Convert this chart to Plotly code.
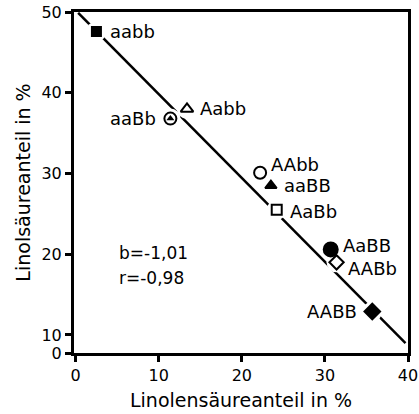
import plotly.graph_objects as go

# ---- data ----
genotypes = ["aabb", "aaBb", "Aabb", "AAbb", "aaBB", "AaBb", "AaBB", "AABb", "AABB"]
linolen = [2.5, 11.4, 13.4, 22.2, 23.5, 24.2, 30.7, 31.4, 35.7]     # x, %
linol = [47.6, 36.8, 38.0, 30.1, 28.5, 25.5, 20.6, 19.0, 12.9]      # y, %
reg_x = [0.3, 39.7]
reg_y = [49.9, 9.0]
x_ticks = [0, 10, 20, 30, 40]
y_tickvals = [7.77, 10, 20, 30, 40, 50]
y_ticktext = ["0", "10", "20", "30", "40", "50"]
stats_text = ["b=-1,01", "r=-0,98"]

# ---- styling ----
symbols = ["square", "circle-open", "triangle-up-open", "circle-open", "triangle-up",
           "square-open", "circle", "diamond-open", "diamond"]
sizes = [9, 12, 11, 12, 10, 10, 14, 11, 12]
label_side = ["right", "left", "right", "right", "right", "right", "right", "right", "left"]
label_dx = [12, -12, 11, 9, 11, 11, 10, 9, -13]
label_dy = [0, 0, 0, 8, 0, -2, 4, -6, 0]
FONT = "DejaVu Sans"

fig = go.Figure()
fig.add_trace(go.Scatter(x=reg_x, y=reg_y, mode="lines",
                         line=dict(color="black", width=2.5), showlegend=False, hoverinfo="skip"))
# white halo to break the line around markers
fig.add_trace(go.Scatter(x=linolen, y=linol, mode="markers",
                         marker=dict(symbol="circle", size=20, color="white", line=dict(width=0)),
                         showlegend=False, hoverinfo="skip"))
for g, xv, yv, s, sz in zip(genotypes, linolen, linol, symbols, sizes):
    fig.add_trace(go.Scatter(x=[xv], y=[yv], mode="markers", name=g,
                             marker=dict(symbol=s, size=sz, color="black",
                                         line=dict(color="black", width=2)),
                             showlegend=False))
    if g == "aaBb":
        fig.add_trace(go.Scatter(x=[xv], y=[yv], mode="markers",
                                 marker=dict(symbol="triangle-up", size=7, color="black"),
                                 showlegend=False, hoverinfo="skip"))

for g, xv, yv, side, dx, dy in zip(genotypes, linolen, linol, label_side, label_dx, label_dy):
    fig.add_annotation(x=xv, y=yv, text=g, showarrow=False,
                       xanchor="left" if side == "right" else "right", yanchor="middle",
                       xshift=dx, yshift=dy, font=dict(family=FONT, size=18, color="black"))

fig.add_annotation(x=5, y=20.2, text=stats_text[0], showarrow=False, xanchor="left",
                   yanchor="middle", font=dict(family=FONT, size=17, color="black"))
fig.add_annotation(x=5, y=17.0, text=stats_text[1], showarrow=False, xanchor="left",
                   yanchor="middle", font=dict(family=FONT, size=17, color="black"))

# broken-axis hint between 0 and 10
fig.add_shape(type="line", xref="x", yref="y", x0=-0.2, x1=-0.2, y0=8.2, y1=9.7,
              line=dict(color="white", width=3, dash="2px,2px"), layer="above")

axis_common = dict(showline=True, linecolor="black", linewidth=3, mirror=True,
                   ticks="outside", ticklen=6, tickwidth=3, tickcolor="black",
                   showgrid=False, zeroline=False, automargin=False,
                   ticklabeloverflow="allow",
                   tickfont=dict(family=FONT, size=16, color="black"))
fig.update_xaxes(range=[-0.2, 40], tickvals=x_ticks,
                 title=dict(text="Linolensäureanteil in %", font=dict(family=FONT, size=19, color="black"),
                            standoff=10),
                 **axis_common)
fig.update_yaxes(range=[7.77, 50], tickvals=y_tickvals, ticktext=y_ticktext,
                 title=dict(text="Linolsäureanteil in %", font=dict(family=FONT, size=19, color="black"),
                            standoff=6),
                 **axis_common)
fig.update_layout(width=419, height=414, margin=dict(l=74, r=11, t=12, b=61),
                  plot_bgcolor="white", paper_bgcolor="white", showlegend=False)
fig.write_html("out.html", config={"displayModeBar": False},
               post_script="document.body.style.margin='0';")
